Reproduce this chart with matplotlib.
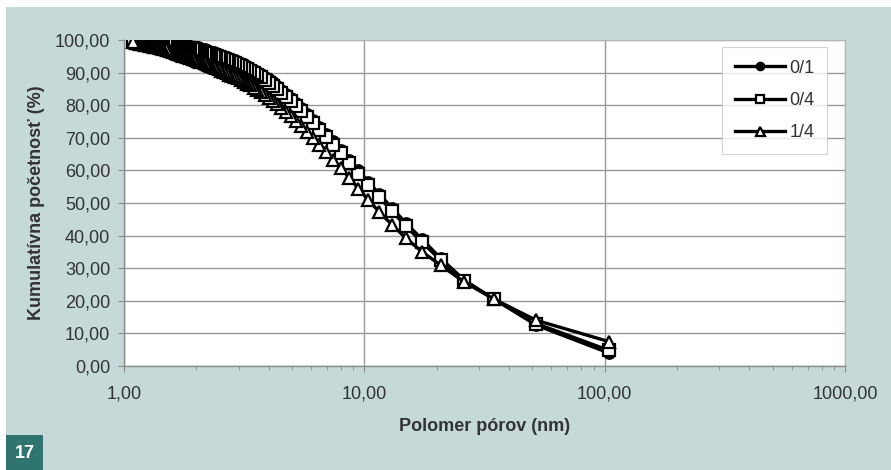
import matplotlib
matplotlib.use("Agg")
import matplotlib.pyplot as plt
from matplotlib.ticker import FixedLocator, FuncFormatter, LogLocator, NullFormatter
from matplotlib.patches import Rectangle

plt.rcParams["font.family"] = ["Liberation Sans", "DejaVu Sans"]

# Polomer pórov (nm), od najväčšieho po najmenší
polomer = [
    104.0, 52.0, 34.67, 26.0, 20.8, 17.33, 14.86, 13.0, 11.56, 10.4,
    9.45, 8.67, 8.0, 7.43, 6.93, 6.5, 6.12, 5.78, 5.47, 5.2,
    4.95, 4.73, 4.52, 4.33, 4.16, 4.0, 3.85, 3.71, 3.59, 3.47,
    3.35, 3.25, 3.15, 3.06, 2.97, 2.89, 2.81, 2.74, 2.67, 2.6,
    2.54, 2.48, 2.42, 2.36, 2.31, 2.26, 2.21, 2.17, 2.12, 2.08,
    2.04, 2.0, 1.96, 1.93, 1.89, 1.86, 1.82, 1.79, 1.76, 1.73,
    1.70, 1.68, 1.65, 1.63, 1.6, 1.58, 1.55, 1.53, 1.51, 1.49,
    1.46, 1.44, 1.42, 1.41, 1.39, 1.37, 1.35, 1.33, 1.32, 1.3,
    1.28, 1.27, 1.25, 1.24, 1.22, 1.21, 1.2, 1.18, 1.17, 1.16,
    1.14, 1.13, 1.12, 1.11, 1.09,
]

# Kumulatívna početnosť (%) pre jednotlivé frakcie
kum_01 = [
    4.0, 12.5, 20.5, 26.4, 33.0, 39.0, 43.9, 48.6, 52.7, 56.5,
    60.0, 63.3, 66.2, 68.9, 71.2, 73.4, 75.4, 77.3, 79.1, 80.7,
    82.2, 83.5, 84.8, 85.9, 87.0, 87.9, 88.7, 89.5, 90.3, 90.9,
    91.5, 92.0, 92.5, 93.0, 93.4, 93.8, 94.1, 94.5, 94.8, 95.1,
    95.4, 95.7, 95.9, 96.2, 96.4, 96.6, 96.8, 97.1, 97.3, 97.5,
    97.7, 97.9, 97.9, 98.0, 98.1, 98.2, 98.3, 98.4, 98.4, 98.5,
    98.6, 98.7, 98.8, 98.9, 99.0, 99.1, 99.1, 99.2, 99.2, 99.2,
    99.3, 99.4, 99.4, 99.4, 99.4, 99.5, 99.5, 99.6, 99.6, 99.7,
    99.7, 99.7, 99.7, 99.7, 99.7, 99.8, 99.8, 99.8, 99.8, 99.8,
    99.8, 99.8, 99.8, 99.8, 99.9,
]
kum_04 = [
    4.8, 13.0, 20.5, 26.1, 32.4, 38.1, 42.9, 47.6, 51.7, 55.5,
    59.0, 62.3, 65.2, 67.9, 70.2, 72.4, 74.4, 76.3, 78.1, 79.7,
    81.2, 82.5, 83.8, 84.9, 86.0, 86.9, 87.7, 88.5, 89.3, 89.9,
    90.5, 91.0, 91.5, 92.0, 92.4, 92.8, 93.1, 93.5, 93.8, 94.1,
    94.4, 94.7, 94.9, 95.2, 95.4, 95.6, 95.8, 96.1, 96.3, 96.5,
    96.7, 96.9, 97.0, 97.1, 97.3, 97.4, 97.5, 97.6, 97.7, 97.8,
    97.9, 98.0, 98.2, 98.3, 98.4, 98.5, 98.6, 98.7, 98.8, 98.8,
    98.9, 99.0, 99.0, 99.1, 99.1, 99.2, 99.2, 99.3, 99.3, 99.4,
    99.4, 99.4, 99.5, 99.5, 99.5, 99.6, 99.6, 99.6, 99.6, 99.7,
    99.7, 99.7, 99.7, 99.7, 99.8,
]
kum_14 = [
    7.5, 14.0, 20.5, 25.8, 30.9, 35.1, 39.3, 43.4, 47.2, 50.9,
    54.4, 57.7, 60.6, 63.3, 65.6, 67.8, 69.8, 71.7, 73.5, 75.1,
    76.6, 77.9, 79.2, 80.3, 81.4, 82.3, 83.1, 83.9, 84.7, 85.4,
    86.1, 86.6, 87.2, 87.7, 88.2, 88.6, 89.0, 89.4, 89.8, 90.2,
    90.6, 91.0, 91.3, 91.6, 91.9, 92.2, 92.5, 92.8, 93.1, 93.4,
    93.6, 93.9, 94.1, 94.3, 94.5, 94.7, 94.9, 95.1, 95.2, 95.4,
    95.6, 95.7, 96.0, 96.2, 96.4, 96.5, 96.7, 96.9, 97.0, 97.1,
    97.2, 97.4, 97.5, 97.6, 97.7, 97.8, 97.9, 98.0, 98.1, 98.3,
    98.3, 98.4, 98.5, 98.6, 98.6, 98.7, 98.8, 98.9, 98.9, 99.0,
    99.1, 99.2, 99.2, 99.3, 99.4,
]

BG = "#c6d9d9"
TXT = "#333333"

fig = plt.figure(figsize=(8.91, 4.70), dpi=100, facecolor="white")
# pozadie obrázka (biely okraj hore a vľavo)
fig.patches.append(Rectangle((6 / 891, 0), 1, 1 - 7 / 470, transform=fig.transFigure,
                             facecolor=BG, edgecolor="none", zorder=-10))
# štítok s číslom obrázka
fig.patches.append(Rectangle((6 / 891, 0), 37 / 891, 35 / 470, transform=fig.transFigure,
                             facecolor="#2f7471", edgecolor="none", zorder=-5))
fig.text(24.5 / 891, 17 / 470, "17", color="white", fontsize=13, fontweight="bold",
         ha="center", va="center")

ax = fig.add_axes([124 / 891, 1 - 366 / 470, 721 / 891, 326 / 470])
ax.set_facecolor("white")

ax.plot(polomer, kum_01, "-", color="black", lw=2.4, marker="o", ms=8,
        mfc="black", mec="black", mew=1.2, label="0/1", zorder=3)
ax.plot(polomer, kum_04, "-", color="black", lw=2.4, marker="s", ms=8.3,
        mfc="white", mec="black", mew=1.6, label="0/4", zorder=4)
ax.plot(polomer, kum_14, "-", color="black", lw=2.4, marker="^", ms=9,
        mfc="white", mec="black", mew=1.6, label="1/4", zorder=5)

ax.set_xscale("log")
ax.set_xlim(1, 1000)
ax.set_ylim(0, 100)

ax.xaxis.set_major_locator(FixedLocator([1, 10, 100, 1000]))
ax.xaxis.set_minor_locator(LogLocator(base=10, subs=range(2, 10)))
ax.xaxis.set_minor_formatter(NullFormatter())
ax.yaxis.set_major_locator(FixedLocator(range(0, 101, 10)))
fmt = FuncFormatter(lambda v, p: f"{v:.2f}".replace(".", ","))
ax.xaxis.set_major_formatter(fmt)
ax.yaxis.set_major_formatter(fmt)

ax.grid(True, which="major", axis="both", color="#9a9a9a", lw=1.0, zorder=0)
ax.set_axisbelow(True)

for s in ["top", "right"]:
    ax.spines[s].set_color("#b5b5b5")
    ax.spines[s].set_linewidth(0.8)
for s in ["left", "bottom"]:
    ax.spines[s].set_color("#8a8a8a")
    ax.spines[s].set_linewidth(1.0)

ax.tick_params(axis="y", which="major", direction="out", length=4, color="#8a8a8a",
               labelsize=13, labelcolor=TXT, pad=6)
ax.tick_params(axis="x", which="major", direction="out", length=4, color="#8a8a8a",
               labelsize=13, labelcolor=TXT, pad=10)
ax.tick_params(axis="x", which="minor", direction="out", length=3, color="#8a8a8a")

ax.set_xlabel("Polomer pórov (nm)", fontsize=13, fontweight="bold", color=TXT, labelpad=11)
ax.set_ylabel("Kumulatívna početnosť (%)", fontsize=13, fontweight="bold", color=TXT,
              labelpad=7)

leg = ax.legend(loc="upper right", bbox_to_anchor=(0.975, 0.9785), borderaxespad=0,
                fontsize=13, handlelength=2.75, handletextpad=0.25, labelspacing=0.85,
                markerscale=0.72, frameon=True, fancybox=False, borderpad=0.7)
leg.get_frame().set_edgecolor("#c8c8c8")
leg.get_frame().set_linewidth(0.8)
for t in leg.get_texts():
    t.set_color(TXT)

fig.savefig("out.png", dpi=100, facecolor=fig.get_facecolor())
